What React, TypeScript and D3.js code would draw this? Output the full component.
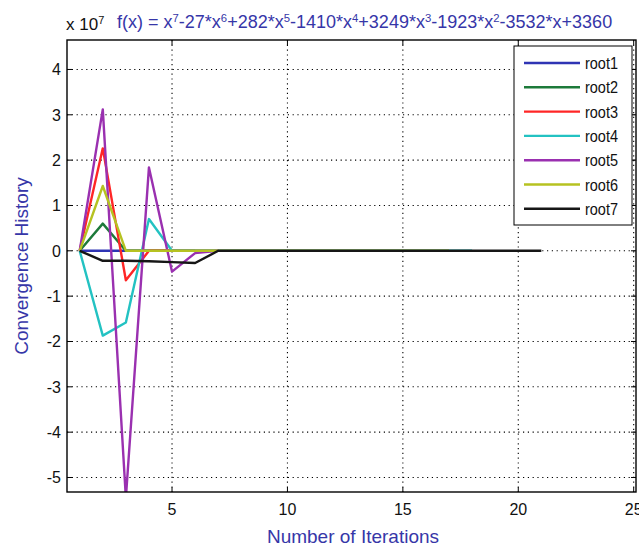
import React from "react";
import * as d3 from "d3";

const xTicks = [5, 10, 15, 20, 25];
const yTicks = [-5, -4, -3, -2, -1, 0, 1, 2, 3, 4];

const seriesNames = ["root1", "root2", "root3", "root4", "root5", "root6", "root7"];
const seriesColors = ["#2f34b4", "#1d7a3a", "#ff2626", "#23c2c2", "#9a30b0", "#b6c221", "#161616"];

// values in units of 1e7, iteration index = position + 1
const root1 = [0, 0, 0, 0, 0, 0];
const root2 = [0, 0.6, 0, 0, 0, 0, 0];
const root3 = [0, 2.26, -0.65, 0, 0, 0, 0];
const root4 = [0, -1.87, -1.58, 0.7, 0, 0, 0, 0, 0, 0, 0, 0, 0, 0, 0, 0, 0, 0];
const root5 = [0, 3.12, -5.45, 1.84, -0.46, -0.05, 0];
const root6 = [0, 1.43, 0, 0, 0, 0, 0, 0, 0, 0, 0, 0, 0, 0, 0, 0, 0];
const root7 = [0, -0.22, -0.22, -0.23, -0.25, -0.27, 0, 0, 0, 0, 0, 0, 0, 0, 0, 0, 0, 0, 0, 0, 0];

const allSeries = [root1, root2, root3, root4, root5, root6, root7];

const W = 639;
const H = 550;
const left = 67;
const right = 636;
const top = 40;
const bottom = 492;

export default function App() {
  const x = d3.scaleLinear().domain([0.45, 25.1]).range([left, right]);
  const y = d3.scaleLinear().domain([-5.32, 4.65]).range([bottom, top]);
  const line = d3
    .line<number>()
    .x((_, i) => x(i + 1))
    .y((d) => y(d));

  const font = "'Liberation Sans', Arial, sans-serif";
  const blue = "#3636a8";
  const legX = 514;
  const legY = 46;
  const legW = 118;
  const legH = 179;
  const rowH = 24.3;

  const sup = (s: string, fs = 11.3) => (
    <tspan baselineShift="super" fontSize={fs}>
      {s}
    </tspan>
  );

  return (
    <svg
      width={W}
      height={H}
      style={{ position: "absolute", left: 0, top: 0, background: "#fff" }}
      fontFamily={font}
    >
      <defs>
        <clipPath id="plotclip">
          <rect x={left} y={top} width={right - left} height={bottom - top} />
        </clipPath>
      </defs>
      <rect x={0} y={0} width={W} height={H} fill="#fff" />

      {/* grid */}
      <g stroke="#000" strokeWidth={1.1} strokeDasharray="1.2,3.6">
        {xTicks.map((t) => (
          <line key={"gx" + t} x1={x(t)} x2={x(t)} y1={top} y2={bottom} />
        ))}
        {yTicks.map((t) => (
          <line key={"gy" + t} x1={left} x2={right} y1={y(t)} y2={y(t)} />
        ))}
      </g>

      {/* ticks */}
      <g stroke="#000" strokeWidth={1}>
        {xTicks.map((t) => (
          <g key={"tx" + t}>
            <line x1={x(t)} x2={x(t)} y1={bottom} y2={bottom - 5} />
            <line x1={x(t)} x2={x(t)} y1={top} y2={top + 5} />
          </g>
        ))}
        {yTicks.map((t) => (
          <g key={"ty" + t}>
            <line x1={left} x2={left + 5} y1={y(t)} y2={y(t)} />
            <line x1={right} x2={right - 5} y1={y(t)} y2={y(t)} />
          </g>
        ))}
      </g>

      {/* series */}
      <g clipPath="url(#plotclip)" fill="none" strokeWidth={2.4} strokeLinejoin="round">
        {allSeries.map((s, i) => (
          <path key={seriesNames[i]} d={line(s) || ""} stroke={seriesColors[i]} />
        ))}
      </g>

      {/* box */}
      <rect x={left} y={top} width={right - left} height={bottom - top} fill="none" stroke="#000" strokeWidth={1.4} />

      {/* tick labels */}
      <g fontSize="16" fill="#111">
        {xTicks.map((t) => (
          <text key={"lx" + t} x={x(t)} y={515} textAnchor="middle">
            {t}
          </text>
        ))}
        {yTicks.map((t) => (
          <text key={"ly" + t} x={61} y={y(t) + 6} textAnchor="end">
            {t}
          </text>
        ))}
      </g>

      {/* axis labels */}
      <text x={353} y={543} textAnchor="middle" fontSize="19" fill={blue}>
        Number of Iterations
      </text>
      <text
        transform={`translate(28, ${266}) rotate(-90)`}
        textAnchor="middle"
        fontSize="19"
        fill={blue}
      >
        Convergence History
      </text>

      {/* exponent */}
      <text x={66} y={30} fontSize="17" fill="#111">
        x 10{sup("7", 11)}
      </text>

      {/* title */}
      <text x={117} y={28} fontSize="18" fill={blue}>
        f(x) = x{sup("7")}-27*x{sup("6")}+282*x{sup("5")}-1410*x{sup("4")}+3249*x{sup("3")}-1923*x{sup("2")}-3532*x+3360
      </text>

      {/* legend */}
      <rect x={legX} y={legY} width={legW} height={legH} fill="#fff" stroke="#000" strokeWidth={1} />
      {seriesNames.map((n, i) => {
        const ly = legY + 17 + i * rowH;
        return (
          <g key={"leg" + n}>
            <line x1={legX + 10} x2={legX + 66} y1={ly} y2={ly} stroke={seriesColors[i]} strokeWidth={2.4} />
            <text x={legX + 71} y={ly + 6} fontSize="17" fill="#111" textLength={33} lengthAdjust="spacingAndGlyphs">
              {n}
            </text>
          </g>
        );
      })}
    </svg>
  );
}
